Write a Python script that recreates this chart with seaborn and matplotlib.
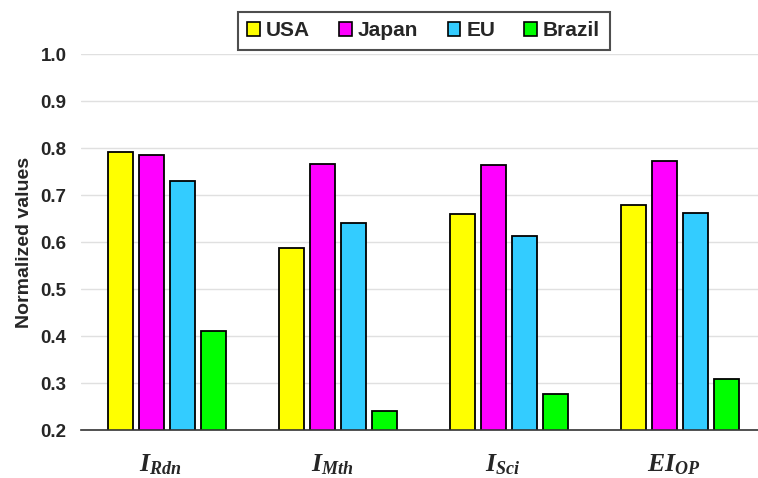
import numpy as np
import pandas as pd
import matplotlib
matplotlib.use('Agg')
import matplotlib.pyplot as plt
import matplotlib.transforms as mtransforms
import seaborn as sns

# values
categories = ['I_Rdn', 'I_Mth', 'I_Sci', 'EI_OP']
cat_labels = [r'$I_{Rdn}$', r'$I_{Mth}$', r'$I_{Sci}$', r'$EI_{OP}$']
countries = ['USA', 'Japan', 'EU', 'Brazil']
usa = [0.791, 0.587, 0.659, 0.679]
japan = [0.785, 0.765, 0.764, 0.772]
eu = [0.730, 0.640, 0.613, 0.661]
brazil = [0.411, 0.240, 0.277, 0.309]
colors = ['#FFFF00', '#FF00FF', '#33CCFF', '#00FF00']
yticks = [0.2, 0.3, 0.4, 0.5, 0.6, 0.7, 0.8, 0.9, 1.0]

rows = []
for name, vals in zip(countries, [usa, japan, eu, brazil]):
    for c, v in zip(categories, vals):
        rows.append({'cat': c, 'country': name, 'value': v})
df = pd.DataFrame(rows)

sns.set_style('white')
plt.rcParams['font.family'] = ['Liberation Sans', 'DejaVu Sans']
plt.rcParams['mathtext.fontset'] = 'custom'
plt.rcParams['mathtext.it'] = 'Liberation Serif:italic:bold'
plt.rcParams['mathtext.rm'] = 'Liberation Serif:bold'
plt.rcParams['mathtext.bf'] = 'Liberation Serif:italic:bold'

fig = plt.figure(figsize=(7.58, 4.78), dpi=100)
ax = fig.add_axes([0.107, 0.1004, 0.893, 0.7866])

sns.barplot(data=df, x='cat', y='value', hue='country', order=categories,
            hue_order=countries, palette=colors, width=0.725, gap=0.2,
            edgecolor='black', linewidth=1.3, saturation=1, ax=ax)

ax.set_ylim(0.2, 1.0)
ax.set_xlim(-0.5, 3.456)
ax.set_yticks(yticks)
ax.set_yticklabels(['%.1f' % t for t in yticks], fontsize=13.5, fontweight='bold')
ax.set_xticks(range(len(categories)))
ax.set_xticklabels(cat_labels, fontsize=18.5)
ax.tick_params(axis='x', length=0, pad=16)
ax.tick_params(axis='y', length=0, pad=10.5)
# the category labels sit a little left of the bar groups
shift = mtransforms.ScaledTranslation(-6 / 100, 0, fig.dpi_scale_trans)
for lab in ax.get_xticklabels():
    lab.set_transform(lab.get_transform() + shift)
ax.yaxis.grid(True, color='#e0e0e0', linewidth=1)
ax.set_axisbelow(True)
ax.set_xlabel('')
ax.set_ylabel('Normalized values', fontsize=14, fontweight='bold', labelpad=5)
for s in ['top', 'right', 'left']:
    ax.spines[s].set_visible(False)
ax.spines['bottom'].set_color('#333333')
ax.spines['bottom'].set_linewidth(1.2)

ax.legend_.remove()
handles = [plt.Rectangle((0, 0), 1, 1, facecolor=c, edgecolor='black', linewidth=1.2) for c in colors]
leg = fig.legend(handles, countries, loc='upper center', bbox_to_anchor=(0.559, 0.975),
                 ncol=4, frameon=True, fancybox=False, edgecolor='#222222',
                 prop={'size': 15, 'weight': 'bold'}, handlelength=0.6, handleheight=0.6,
                 handletextpad=0.3, columnspacing=1.4, borderpad=0.45, borderaxespad=0)
leg.get_frame().set_linewidth(1.5)

plt.savefig('out.png', dpi=100)
